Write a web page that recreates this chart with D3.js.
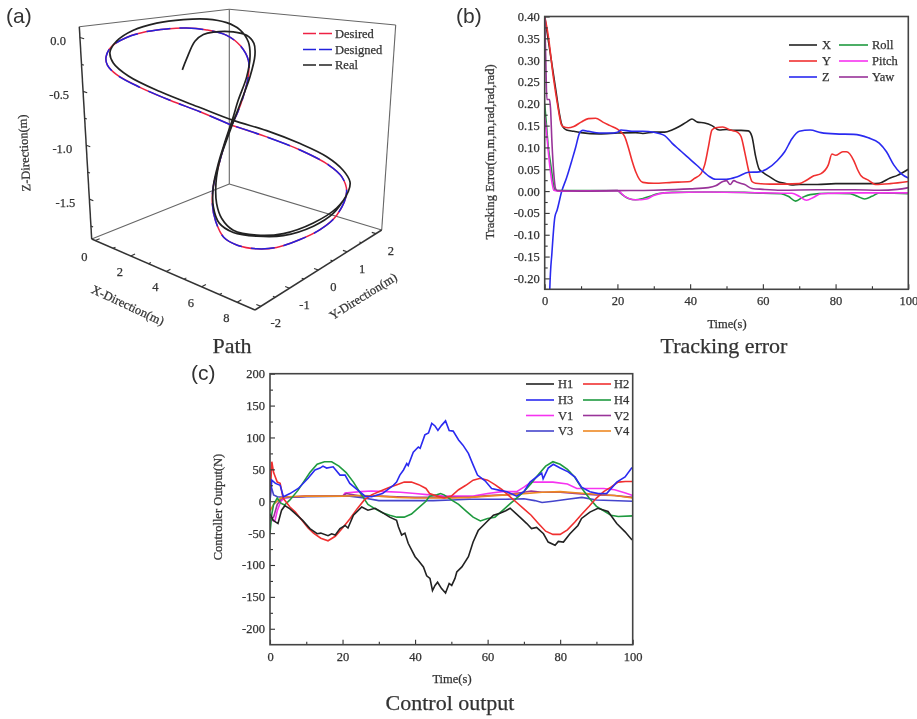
<!DOCTYPE html>
<html>
<head>
<meta charset="utf-8">
<title>Path, tracking error, control output</title>
<script src="https://cdn.jsdelivr.net/npm/d3@7"></script>
<style>
	body { margin: 0; background: #fff; }
	svg { display: block; filter: blur(0.5px); }
	text { font-family: "Liberation Serif", serif; fill: #333; stroke: #333; stroke-width: 0.25px; }
</style>
</head>
<body>
<svg></svg>
<script>
var WIDTH = 917;
var HEIGHT = 719;

// (a) path, x / y / z in metres
var desiredX = [3.94,2.90,1.98,1.08,0.57,0.64,0.77,0.55,0.65,0.83,1.18,1.53,1.88,2.06,1.92,1.62,1.99,2.63,3.37,3.94,4.45,5.11,5.68,5.96,5.80,5.58,5.66,5.92,6.39,7.06,7.70,8.13,8.47,8.31,7.86,6.74,5.37,3.94];
var desiredY = [0,-0.4,-0.8,-1.2,-1.6,-1.9,-2,-1.7,-1.3,-0.8,-0.4,0,0.4,0.9,1.4,1.8,1.6,1.1,0.5,0,-0.5,-1.1,-1.6,-1.8,-1.6,-1.2,-0.8,-0.3,0.1,0.5,0.8,1.1,1.2,1.1,0.9,0.6,0.3,0];
var desiredZ = [-0.79,-0.67,-0.57,-0.46,-0.34,-0.23,-0.14,-0.07,0.00,0.04,0.06,0.06,0.03,-0.05,-0.20,-0.39,-0.53,-0.67,-0.75,-0.79,-0.88,-1.00,-1.09,-1.20,-1.39,-1.60,-1.72,-1.81,-1.83,-1.78,-1.70,-1.59,-1.37,-1.22,-1.10,-0.97,-0.87,-0.79];
var realX = [0.70,0.77,0.87,0.97,1.15,1.69,2.06,1.92,1.80,2.09,2.72,3.68,4.36,4.86,5.49,5.86,5.80,5.77,6.08,6.76,7.63,8.27,8.57,8.55,8.22,7.58,6.73,5.37,4.03,2.90,1.80,1.20,0.87,0.81,0.65,0.66,1.01,1.54,1.89,2.06,2.06,1.79,1.62,1.90,2.53,3.63,4.27,4.94,5.51,5.85,5.66,5.77,6.08,6.76,7.64,8.09,8.48];
var realY = [0.3,0.4,0.6,0.8,1,1.3,1.5,1.8,1.9,1.6,1,0.2,-0.4,-0.9,-1.4,-1.6,-1.4,-1,-0.4,0.1,0.6,1,1.2,1.25,1.2,1,0.6,0.3,0,-0.4,-1,-1.6,-1.85,-1.9,-1.6,-1.1,-0.6,-0.1,0.4,0.9,1.3,1.7,1.85,1.6,1,0.2,-0.4,-1,-1.5,-1.7,-1.4,-1,-0.4,0.1,0.6,1,1.2];
var realZ = [-0.41,-0.30,-0.13,-0.07,-0.05,-0.05,-0.09,-0.20,-0.34,-0.53,-0.69,-0.79,-0.87,-0.97,-1.09,-1.23,-1.39,-1.55,-1.66,-1.68,-1.61,-1.50,-1.36,-1.28,-1.18,-1.05,-0.91,-0.81,-0.74,-0.63,-0.48,-0.32,-0.20,-0.10,-0.02,0.06,0.12,0.15,0.14,0.08,-0.02,-0.18,-0.35,-0.54,-0.70,-0.77,-0.89,-0.99,-1.11,-1.25,-1.44,-1.57,-1.67,-1.70,-1.64,-1.56,-1.40];
var pathXTicks = [0,2,4,6,8];
var pathYTicks = [-2,-1,0,1,2];
var pathZTicks = [0,-0.5,-1,-1.5];

// (b) tracking error, [time, error]
var errX = [[0,0.40],[1,0.345],[2,0.29],[3,0.235],[4,0.18],[4.6,0.155],[5,0.147],[6,0.14],[8,0.137],[10,0.134],[15,0.131],[20,0.133],[25,0.134],[27,0.132],[30,0.135],[33,0.135],[35,0.14],[37,0.148],[39,0.158],[40.5,0.165],[42,0.158],[44,0.156],[46,0.15],[48,0.14],[50,0.141],[52,0.139],[54,0.139],[56,0.138],[57,0.125],[58,0.08],[59,0.05],[60,0.043],[62,0.032],[64,0.022],[66,0.018],[68,0.014],[70,0.015],[75,0.015],[80,0.017],[85,0.017],[90,0.017],[92,0.018],[95,0.03],[97,0.036],[100,0.05]];
var errY = [[0,0.40],[0.9,0.36],[2.4,0.26],[3.5,0.2],[4.6,0.152],[5,0.148],[6.5,0.145],[8,0.148],[10,0.158],[12,0.166],[14,0.167],[16,0.158],[18,0.15],[20,0.142],[21,0.135],[22,0.125],[23,0.1],[24,0.07],[25,0.045],[27,0.02],[30,0.018],[35,0.02],[40,0.022],[41,0.028],[43,0.04],[44,0.06],[45,0.1],[46,0.14],[47,0.145],[49,0.147],[51,0.14],[53,0.135],[54,0.125],[55,0.09],[56,0.05],[57,0.022],[58,0.018],[62,0.016],[66,0.016],[70,0.017],[72,0.025],[74,0.035],[76,0.04],[78,0.06],[79,0.085],[80,0.082],[82,0.09],[83,0.09],[85,0.07],[86,0.05],[87,0.035],[89,0.025],[91,0.015],[95,0.017],[100,0.022]];
var errZ = [[1.2,-0.3],[1.4,-0.225],[2,-0.14],[2.8,-0.059],[3.4,-0.044],[4.7,0],[6,0.03],[7.5,0.071],[8.5,0.1],[9.7,0.135],[10.5,0.139],[12,0.137],[15,0.133],[18,0.133],[20,0.135],[21,0.14],[24,0.137],[27,0.137],[30,0.135],[33,0.127],[35,0.11],[37,0.095],[39,0.08],[42,0.058],[45,0.035],[47,0.027],[50,0.027],[53,0.033],[56,0.043],[59,0.044],[61,0.05],[64,0.07],[66,0.09],[68,0.12],[70,0.137],[73,0.14],[76,0.134],[80,0.131],[85,0.13],[89,0.122],[92,0.11],[94,0.09],[96,0.06],[98,0.04],[100,0.03]];
var errRoll = [[0,0.2],[0.5,0.15],[1,0.1],[1.5,0.07],[2,0.04],[2.5,0.01],[3,0.002],[4,0.001],[10,0.001],[20,0.001],[21,-0.006],[23,-0.017],[25,-0.02],[27,-0.017],[29,-0.012],[31,-0.006],[35,-0.003],[45,-0.002],[55,-0.003],[60,-0.005],[65,-0.006],[67,-0.012],[69,-0.023],[71,-0.014],[73,-0.008],[78,-0.005],[84,-0.006],[86,-0.012],[88,-0.018],[90,-0.012],[92,-0.004],[96,-0.005],[100,-0.006]];
var errPitch = [[0,0.17],[0.5,0.135],[1,0.09],[1.5,0.05],[2,0.02],[2.5,0.002],[4,0],[20,0.001],[22,-0.012],[25,-0.02],[28,-0.018],[30,-0.01],[33,-0.004],[45,-0.002],[60,-0.004],[68,-0.005],[70,-0.012],[72,-0.021],[74,-0.014],[76,-0.006],[85,-0.004],[100,-0.004]];
var errYaw = [[0,0.40],[0.3,0.3],[0.6,0.21],[1.3,0.21],[1.6,0.19],[2,0.11],[2.5,0.04],[3,0.005],[3.5,0.001],[10,0],[20,0.001],[30,0.002],[40,0.005],[45,0.008],[47,0.012],[49,0.022],[50,0.024],[51,0.015],[52,0.024],[53,0.02],[55,0.015],[57,0.006],[60,0.004],[65,0.002],[75,0.003],[85,0.003],[92,0.002],[97,0.004],[100,0.008]];

// (c) control output, [time, force]
var outH1 = [[0,-20],[0.9,-30],[2.2,-35],[3.2,-14],[4.1,-7],[5.5,-12],[6.9,-19],[9,-30],[11,-43],[13,-51],[14,-50],[16,-54],[17,-51],[18,-53],[19.3,-43],[20.7,-38],[21.5,-42],[23,-22],[25.3,-9],[27,-14],[29,-11],[30.8,-17],[33,-25],[34.9,-30],[35.4,-40],[36.3,-53],[37.2,-50],[38.1,-66],[39.1,-77],[40,-87],[40.9,-93],[42.3,-103],[43.2,-117],[44.1,-121],[44.8,-140],[45.5,-132],[46.2,-127],[47.3,-137],[48.4,-144],[49.4,-129],[50.1,-132],[51,-121],[51.5,-111],[52.9,-103],[54.7,-87],[56,-64],[57.4,-46],[59.3,-35],[61.6,-22],[63.4,-19],[65,-15],[66.2,-11],[68.9,-25],[70.8,-35],[72.1,-43],[73.5,-41],[75.4,-51],[76.7,-64],[78.6,-69],[79.5,-63],[80.9,-64],[82.7,-51],[84.9,-38],[85.9,-27],[88.2,-17],[90.4,-11],[93.2,-16],[95.6,-35],[97.9,-48],[99.7,-60],[100,-61]];
var outH2 = [[0,0],[0.5,62],[1,45],[2,30],[2.8,28],[3.6,5],[5.5,-9],[7,-17],[10.5,-42],[12,-50],[14,-58],[16,-62],[18,-55],[20,-42],[22,-28],[24,-12],[26,2],[28,10],[30,15],[33,22],[35,26],[37,30],[39,30],[41,26],[43,20],[44,12],[46,8],[48,5],[50,8],[52,18],[54,25],[56,33],[58,36],[60,33],[62,26],[64,18],[66,8],[68,-2],[70,-12],[72,-22],[74,-35],[76,-47],[78,-52],[80,-52],[82,-45],[84,-33],[86,-20],[88,-8],[90,5],[92,15],[94,22],[96,30],[98,31],[100,31]];
var outH3 = [[0,0],[0.5,33],[1.5,28],[2.8,25],[3.7,7],[5.5,12],[7.8,20],[10.5,36],[12.4,49],[13.8,52],[14.6,55],[15.6,52],[17.4,54],[19.3,41],[20.7,41],[22,28],[24.3,17],[26.2,8],[28,7],[31,12],[34,25],[34.9,30],[35.8,41],[36.8,49],[37.7,59],[38.1,56],[39.5,77],[40.9,85],[41.4,83],[42.7,104],[43.7,107],[44.6,122],[45.5,118],[46.3,111],[47.3,119],[48.4,126],[49.4,111],[50.5,110],[52,96],[53.2,88],[54.7,75],[56,57],[57.2,41],[59.3,32],[61.1,20],[63.4,17],[65.3,15],[68,8],[70,15],[71.7,30],[73.5,38],[74.9,44],[75.3,35],[76.7,52],[78.1,58],[80,52],[82.2,46],[84.1,38],[85.9,22],[88.2,15],[90.5,12],[92.8,12],[95.6,30],[97.9,38],[99.7,52],[100,52]];
var outH4 = [[0,-50],[0.5,-20],[1,-5],[2,5],[3,-3],[4,-6],[5.5,2],[7.7,17],[9,28],[11,45],[13,58],[15,62],[17,62],[19,55],[21,45],[23,30],[25,12],[27,-5],[29,-12],[31,-18],[33,-22],[35,-25],[37,-25],[39,-20],[41,-10],[43,0],[44,8],[46,10],[47,12],[48,10],[50,2],[52,-5],[54,-15],[56,-25],[58,-31],[60,-27],[62,-25],[64,-15],[66,-5],[68,5],[70,15],[72,28],[74,42],[76,55],[78,62],[80,58],[82,50],[84,38],[86,20],[88,5],[90,-8],[92,-15],[94,-22],[96,-24],[100,-23]];
var outV1 = [[0,-30],[1.4,-30],[2,-15],[3,0],[4,5],[10,8],[20,8],[20.7,13],[25,15],[28,16],[32,15],[36,14],[40,12],[44,10],[48,8],[52,8],[56,8],[60,12],[64,15],[68,15],[70,22],[72,30],[74.4,30],[78,30],[82,27],[84.6,20],[88,20],[92,20],[95,18],[98,13],[100,9]];
var outV2 = [[0,-30],[1,-25],[2,-5],[3,3],[4,6],[10,8],[20,8],[21,12],[25,8],[30,8],[35,7],[40,6],[50,6],[55,6],[60,9],[65,10],[70,14],[72,16],[75,14],[80,14],[85,12],[90,10],[95,9],[100,6]];
var outV3 = [[0,30],[1,10],[2,7],[4,6],[10,7],[20,8],[22,8],[26,5],[30,1],[35,1],[40,1],[45,1],[50,2],[55,3],[60,3],[65,3],[70,4],[73,1],[75,-2],[78,0],[82,3],[86,6],[90,2],[100,0]];
var outV4 = [[0,-15],[1,-5],[2,0],[3,5],[5,7],[10,8],[20,8],[25,9],[30,8],[35,6],[40,5],[50,5],[55,6],[60,8],[65,10],[70,12],[75,14],[80,15],[85,13],[90,11],[95,9],[100,5]];

var svg = d3.select('svg').attr('width', WIDTH).attr('height', HEIGHT);

var addText = function(parent, x, y, str, size, anchor, angle){
	var t = parent.append('text')
		.attr('x', x)
		.attr('y', y)
		.attr('font-size', size)
		.attr('text-anchor', anchor || 'start')
		.text(str);
	if(angle){
		t.attr('transform', 'rotate('+angle+' '+x+' '+y+')');
	}
	return t;
};

var addPanelTag = function(x, y, str){
	addText(svg, x, y, str, 21).style('font-family', '"Liberation Sans", sans-serif').style('stroke-width', 0);
};

// d3.format gives a real minus sign, the figure has plain hyphens
var plainFormat = function(spec){
	var f = d3.format(spec);
	return function(v){
		return f(v).replace('\u2212', '-');
	};
};

var drawLegend = function(rows, lineX0, lineX1, textX, rowY, size){
	rows.forEach(function(row, index){
		svg.append('line')
			.attr('x1', lineX0).attr('x2', lineX1)
			.attr('y1', rowY[index]).attr('y2', rowY[index])
			.attr('stroke', row.color)
			.attr('stroke-width', 1.6)
			.attr('stroke-dasharray', row.dash || null);
		addText(svg, textX, rowY[index] + 4, row.name, size);
	});
};

// ---- (a) box drawn through a small perspective projection
var xFrac = d3.scaleLinear([-0.2, 9], [0, 1]);
var yFrac = d3.scaleLinear([-2.2, 2.2], [0, 1]);
var zFrac = d3.scaleLinear([-1.87, 0.1], [0, 1]);
var floorL = [91.7, 239], floorF = [255, 310], floorR = [381.7, 230], floorB = [229.3, 184];
var liftL = [-12.4, -212.3], liftF = [2, -235], liftR = [14, -205], liftB = [0, -174.7];

var bilinear = function(p, q, r, s, a, b, i){
	return p[i]*(1-a)*(1-b) + q[i]*a*(1-b) + r[i]*a*b + s[i]*(1-a)*b;
};
var project = function(x, y, z){
	var a = xFrac(x), b = yFrac(y), t = zFrac(z);
	return [
		bilinear(floorL, floorF, floorR, floorB, a, b, 0) + t*bilinear(liftL, liftF, liftR, liftB, a, b, 0),
		bilinear(floorL, floorF, floorR, floorB, a, b, 1) + t*bilinear(liftL, liftF, liftR, liftB, a, b, 1)
	];
};

var gA = svg.append('g');
var xLo = -0.2, xHi = 9, yLo = -2.2, yHi = 2.2, zLo = -1.87, zHi = 0.1;
var edge = function(from, to, color, width){
	var p = project(from[0], from[1], from[2]);
	var q = project(to[0], to[1], to[2]);
	gA.append('line')
		.attr('x1', p[0]).attr('y1', p[1])
		.attr('x2', q[0]).attr('y2', q[1])
		.attr('stroke', color)
		.attr('stroke-width', width);
};
// back walls and floor lines
edge([xLo,yHi,zLo], [xLo,yHi,zHi], '#666', 1.1);
edge([xLo,yLo,zLo], [xLo,yHi,zLo], '#666', 1.1);
edge([xLo,yHi,zLo], [xHi,yHi,zLo], '#666', 1.1);
edge([xLo,yLo,zHi], [xLo,yHi,zHi], '#666', 1.1);
edge([xLo,yHi,zHi], [xHi,yHi,zHi], '#666', 1.1);
edge([xHi,yHi,zLo], [xHi,yHi,zHi], '#666', 1.1);
// axes
edge([xLo,yLo,zLo], [xLo,yLo,zHi], '#333', 1.5);
edge([xLo,yLo,zLo], [xHi,yLo,zLo], '#333', 1.5);
edge([xHi,yLo,zLo], [xHi,yHi,zLo], '#333', 1.5);

d3.range(0, 9, 1).forEach(function(v){
	edge([v,yLo,zLo], [v,yLo + (v % 2 == 0 ? 0.14 : 0.08),zLo], '#333', 1.1);
});
d3.range(-2, 2.5, 0.5).forEach(function(v){
	edge([xHi,v,zLo], [xHi - (v % 1 == 0 ? 0.25 : 0.13),v,zLo], '#333', 1.1);
});
d3.range(-1.75, 0.25, 0.25).forEach(function(v){
	edge([xLo,yLo,v], [xLo + (v % 0.5 == 0 ? 0.22 : 0.12),yLo,v], '#333', 1.1);
});
pathXTicks.forEach(function(v){
	var p = project(v, yLo, zLo);
	addText(gA, p[0] - 11, p[1] + 20, v, 12.5, 'middle');
});
pathYTicks.forEach(function(v){
	var p = project(xHi, v, zLo);
	addText(gA, p[0] + 15, p[1] + 21, v, 12.5, 'middle');
});
pathZTicks.forEach(function(v){
	var p = project(xLo, yLo, v);
	addText(gA, p[0] - 14, p[1] + 8, plainFormat('.1f')(v), 12.5, 'end');
});
addText(gA, 24, 153, 'Z-Direction(m)', 12.5, 'middle', -93.3).attr('dy', '0.35em');
addText(gA, 128, 305, 'X-Direction(m)', 12.5, 'middle', 25).attr('dy', '0.35em');
addText(gA, 363, 296, 'Y-Direction(m)', 12.5, 'middle', -32).attr('dy', '0.35em');

var line3d = d3.line().curve(d3.curveCatmullRom.alpha(0.5));
var points3d = function(xs, ys, zs){
	return xs.map(function(x, i){
		return project(x, ys[i], zs[i]);
	});
};
var desiredPts = points3d(desiredX, desiredY, desiredZ);
gA.append('path').attr('d', line3d(desiredPts)).attr('fill', 'none').attr('stroke', '#ee2244').attr('stroke-width', 1.5);
gA.append('path').attr('d', line3d(desiredPts)).attr('fill', 'none').attr('stroke', '#2222dd').attr('stroke-width', 1.5).attr('stroke-dasharray', '24 9');
gA.append('path').attr('d', line3d(points3d(realX, realY, realZ))).attr('fill', 'none').attr('stroke', '#222').attr('stroke-width', 1.7);

drawLegend([
	{name: 'Desired', color: '#ee2244', dash: '13 3 13'},
	{name: 'Designed', color: '#2222dd', dash: '13 3 13'},
	{name: 'Real', color: '#222', dash: '13 3 13'}
], 303, 332, 335, [33.5, 49.5, 65], 12.5);

addPanelTag(6, 23, '(a)');
addText(svg, 232, 353, 'Path', 22, 'middle');

// ---- (b) and (c) share one plot routine
var drawPlot = function(cfg){
	var xScale = d3.scaleLinear().domain([0, 100]).range([cfg.left, cfg.right]);
	var yScale = d3.scaleLinear().domain(cfg.yDomain).range([cfg.bottom, cfg.top]);
	var g = svg.append('g');

	var clipId = cfg.id + '-clip';
	g.append('clipPath').attr('id', clipId).append('rect')
		.attr('x', cfg.left).attr('y', cfg.top)
		.attr('width', cfg.right - cfg.left)
		.attr('height', cfg.bottom - cfg.top);

	var line = d3.line()
		.curve(cfg.curve)
		.x(function(d){ return xScale(d[0]); })
		.y(function(d){ return yScale(d[1]); });
	g.append('g').attr('clip-path', 'url(#'+clipId+')')
		.selectAll('path').data(cfg.series).enter()
		.append('path')
		.attr('d', function(s){ return line(s.values); })
		.attr('fill', 'none')
		.attr('stroke', function(s){ return s.color; })
		.attr('stroke-width', 1.6);

	var minorX = g.append('g').attr('transform', 'translate(0,'+cfg.bottom+')')
		.call(d3.axisBottom(xScale).tickValues(d3.range(10, 100, 20)).tickSize(-3).tickFormat(''));
	var minorY = g.append('g').attr('transform', 'translate('+cfg.left+',0)')
		.call(d3.axisLeft(yScale).tickValues(cfg.yMinor).tickSize(-3).tickFormat(''));
	var bottomAxis = d3.axisBottom(xScale).tickValues(d3.range(0, 101, 20)).tickSize(-5).tickPadding(7).tickFormat(d3.format('d'));
	var leftAxis = d3.axisLeft(yScale).tickValues(cfg.yTicks).tickSize(-5).tickPadding(5).tickFormat(plainFormat(cfg.yFormat));
	var axisX = g.append('g').attr('transform', 'translate(0,'+cfg.bottom+')').call(bottomAxis);
	var axisY = g.append('g').attr('transform', 'translate('+cfg.left+',0)').call(leftAxis);
	[minorX, minorY, axisX, axisY].forEach(function(axis){
		axis.select('.domain').remove();
		axis.selectAll('line').attr('stroke', '#333').attr('stroke-width', 1.1);
		axis.selectAll('text').attr('font-size', 12.5);
	});
	g.append('rect')
		.attr('x', cfg.left).attr('y', cfg.top)
		.attr('width', cfg.right - cfg.left)
		.attr('height', cfg.bottom - cfg.top)
		.attr('fill', 'none')
		.attr('stroke', '#444')
		.attr('stroke-width', 1.6);
};

drawPlot({
	id: 'err', left: 544.7, right: 908.3, top: 16.5, bottom: 289.3,
	curve: d3.curveMonotoneX,
	yDomain: [-0.225, 0.4],
	yTicks: d3.range(-4, 9).map(function(v){ return v*0.05; }),
	yMinor: d3.range(-4, 8).map(function(v){ return v*0.05 + 0.025; }),
	yFormat: '.2f',
	series: [
		{values: errX, color: '#222'},
		{values: errY, color: '#f03030'},
		{values: errZ, color: '#2a2af0'},
		{values: errRoll, color: '#1f9a3f'},
		{values: errPitch, color: '#f633f0'},
		{values: errYaw, color: '#993399'}
	]
});
addText(svg, 490, 152, 'Tracking Error(m,m,m,rad,rad,rad)', 12.5, 'middle', -90).attr('dy', '0.35em');
addText(svg, 727, 328, 'Time(s)', 12.5, 'middle');
addText(svg, 724, 353, 'Tracking error', 22, 'middle');
addPanelTag(456, 23, '(b)');
drawLegend([
	{name: 'X', color: '#222'},
	{name: 'Y', color: '#f03030'},
	{name: 'Z', color: '#2a2af0'}
], 789, 817, 822, [45, 61, 77], 12.5);
drawLegend([
	{name: 'Roll', color: '#1f9a3f'},
	{name: 'Pitch', color: '#f633f0'},
	{name: 'Yaw', color: '#993399'}
], 839, 868, 872, [45, 61, 77], 12.5);

drawPlot({
	id: 'out', left: 270, right: 632.7, top: 373.7, bottom: 644.7,
	curve: d3.curveLinear,
	yDomain: [-225, 200],
	yTicks: d3.range(-200, 201, 50),
	yMinor: d3.range(-175, 176, 50),
	yFormat: 'd',
	series: [
		{values: outV1, color: '#f633f0'},
		{values: outV2, color: '#993399'},
		{values: outV3, color: '#4444cc'},
		{values: outV4, color: '#ee8822'},
		{values: outH4, color: '#1f9a3f'},
		{values: outH2, color: '#f03030'},
		{values: outH1, color: '#222'},
		{values: outH3, color: '#2a2af0'}
	]
});
addText(svg, 218, 507, 'Controller Output(N)', 12.5, 'middle', -90).attr('dy', '0.35em');
addText(svg, 452, 683, 'Time(s)', 12.5, 'middle');
addText(svg, 450, 710, 'Control output', 22, 'middle');
addPanelTag(191, 380, '(c)');
drawLegend([
	{name: 'H1', color: '#222'},
	{name: 'H3', color: '#2a2af0'},
	{name: 'V1', color: '#f633f0'},
	{name: 'V3', color: '#4444cc'}
], 526, 554, 558, [384, 400, 415.5, 431], 12.5);
drawLegend([
	{name: 'H2', color: '#f03030'},
	{name: 'H4', color: '#1f9a3f'},
	{name: 'V2', color: '#993399'},
	{name: 'V4', color: '#ee8822'}
], 583, 611, 614, [384, 400, 415.5, 431], 12.5);
</script>
</body>
</html>
